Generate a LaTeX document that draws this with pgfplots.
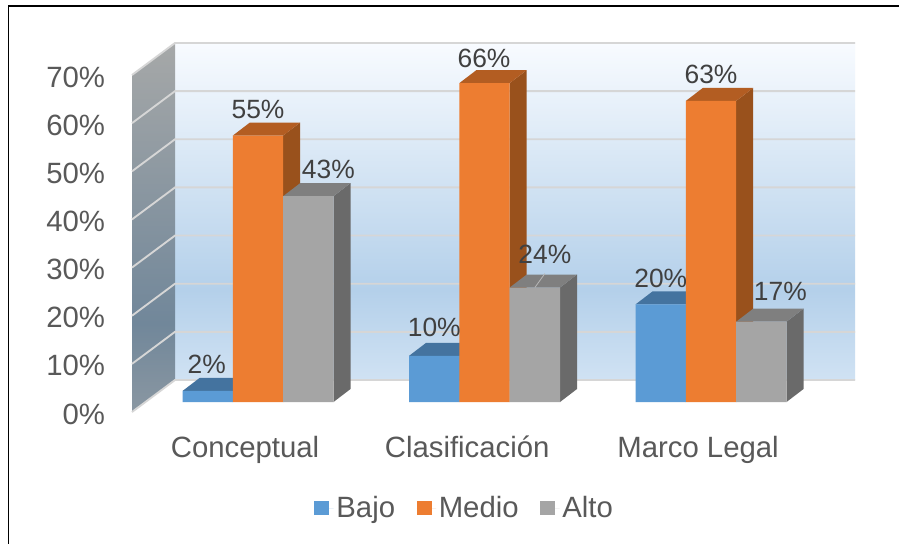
\documentclass[border=0pt]{standalone}
\usepackage{pgfplots}
\usepackage{fontspec}
\setmainfont{Liberation Sans}
\pgfplotsset{compat=1.18}
\definecolor{cBlue}{HTML}{5B9BD5}
\definecolor{cBlueTop}{HTML}{44739F}
\definecolor{cBlueSide}{HTML}{3E6A93}
\definecolor{cOrange}{HTML}{ED7D31}
\definecolor{cOrangeTop}{HTML}{B35D22}
\definecolor{cOrangeSide}{HTML}{99511C}
\definecolor{cGray}{HTML}{A5A5A5}
\definecolor{cGrayTop}{HTML}{7F7F7F}
\definecolor{cGraySide}{HTML}{6A6A6A}
\definecolor{cGrid}{HTML}{D6D6D6}
\definecolor{cTick}{HTML}{595959}
\definecolor{cLab}{HTML}{404040}
\definecolor{bwTop}{HTML}{F8FBFF}
\definecolor{bwMid}{HTML}{B4D0EA}
\definecolor{bwBot}{HTML}{D0E2F3}
\definecolor{lwTop}{HTML}{A6A8A8}
\definecolor{lwMid}{HTML}{71879A}
\definecolor{lwBot}{HTML}{8A97A2}
\pgfdeclareverticalshading{backwall}{100bp}{color(0bp)=(bwBot); color(25bp)=(bwBot); color(38.4bp)=(bwMid); color(75bp)=(bwTop); color(100bp)=(bwTop)}
\pgfdeclareverticalshading{leftwall}{100bp}{color(0bp)=(lwBot); color(25bp)=(lwBot); color(37bp)=(lwMid); color(75bp)=(lwTop); color(100bp)=(lwTop)}
\newcommand{\bigfont}{\fontsize{22}{25}\selectfont}
\newcommand{\labfont}{\fontsize{19.8}{23}\selectfont}
% side and top face of one bar: category, shift (-1,0,1), value, side colour, top colour
\newcommand{\barfaces}[5]{%
  \pgfmathsetmacro{\xl}{#1+#2*0.2221-0.11105}%
  \pgfmathsetmacro{\xr}{#1+#2*0.2221+0.11105}%
  \pgfmathsetmacro{\xlb}{\xl+0.07506}%
  \pgfmathsetmacro{\xrb}{\xr+0.07506}%
  \pgfmathsetmacro{\vb}{#3+2.703}%
  \addplot[fill=#4,draw=none,forget plot] coordinates {(\xr,0)(\xrb,2.703)(\xrb,\vb)(\xr,#3)};
  \addplot[fill=#5,draw=none,forget plot] coordinates {(\xl,#3)(\xlb,\vb)(\xrb,\vb)(\xr,#3)};
}
% data label: category, shift, value, x offset px, y offset px
\newcommand{\barlabel}[5]{%
  \pgfmathsetmacro{\xc}{#1+#2*0.2221}%
  \addplot[draw=none,forget plot,nodes near coords={\pgfmathprintnumber[fixed,precision=0]{\pgfplotspointmeta}\%},
    every node near coord/.append style={anchor=center,inner sep=0pt,text=cLab,font=\labfont,xshift=#4*0.75pt,yshift=#5*0.75pt}]
    coordinates {(\xc,#3)};
}
\pgfplotsset{/pgf/number format/assume math mode=true}
\begin{document}
\begin{tikzpicture}
\path[use as bounding box] (0,0) rectangle (674.25pt,408pt);
\fill[white] (0,0) rectangle (674.25pt,408pt);
\draw[black,line width=1.3pt] (674.25pt,403.3pt) -- (6.4pt,403.3pt) -- (6.4pt,0pt);
% walls and the value axis
\begin{axis}[
  at={(99pt,99pt)},anchor=south west,scale only axis,width=542.25pt,height=252.75pt,
  xmin=132,xmax=855,ymin=0,ymax=70,clip=false,no markers,
  axis line style={draw=none},tick style={draw=none},xtick=\empty,
  ytick={0,10,...,70},
  yticklabel={\pgfmathprintnumber{\tick}\%},
  yticklabel style={anchor=east,inner sep=0pt,xshift=-20pt,yshift=-1.5pt,text=cTick,font=\bigfont},
]
\path[shading=backwall] (axis cs:175,6.65) rectangle (axis cs:855,76.65);
\path[shading=leftwall] (axis cs:132,0) -- (axis cs:175,6.65) -- (axis cs:175,76.65) -- (axis cs:132,70) -- cycle;
\pgfplotsinvokeforeach{0,10,...,70}{
  \pgfmathsetmacro{\vb}{#1+6.65}
  \addplot[cGrid,line width=1.4pt,forget plot] coordinates {(132,#1)(175,\vb)(855,\vb)};
}
\end{axis}
% bars
\begin{axis}[
  at={(108.6pt,106.5pt)},anchor=south west,scale only axis,width=509.625pt,height=252.525pt,
  xmin=-0.5,xmax=2.5,ymin=0,ymax=70,clip=false,no markers,
  axis line style={draw=none},tick style={draw=none},ytick=\empty,
  xtick={0,1,2},xticklabels={\hspace*{1.5pt}Conceptual,Clasificación\hspace*{5pt},\hspace*{1.5pt}Marco Legal},
  xticklabel style={anchor=base,yshift=-41.25pt,xshift=-10.5pt,text=cTick,font=\bigfont},
  legend style={at={(0.4712,-0.3148)},anchor=center,draw=none,fill=none,font=\bigfont,text=cTick,
    legend columns=3,/tikz/every even column/.append style={column sep=14.25pt}},
  legend image code/.code={\fill[#1] (0pt,-5.6pt) rectangle (11.25pt,5.6pt);\path (0pt,0pt) -- (14.5pt,0pt);},
]
% Bajo
\barfaces{0}{-1}{2.3}{cBlueSide}{cBlueTop}
\barfaces{1}{-1}{9.6}{cBlueSide}{cBlueTop}
\barfaces{2}{-1}{20.3}{cBlueSide}{cBlueTop}
\addplot[ybar,bar width=37.725pt,bar shift=-37.725pt,fill=cBlue,draw=none] coordinates {(0,2.3)(1,9.6)(2,20.3)};
\addlegendentry{Bajo}
% Medio
\barfaces{0}{0}{55.4}{cOrangeSide}{cOrangeTop}
\barfaces{1}{0}{66.3}{cOrangeSide}{cOrangeTop}
\barfaces{2}{0}{62.6}{cOrangeSide}{cOrangeTop}
\addplot[ybar,bar width=37.725pt,bar shift=0pt,fill=cOrange,draw=none] coordinates {(0,55.4)(1,66.3)(2,62.6)};
\addlegendentry{Medio}
% Alto
\barfaces{0}{1}{42.8}{cGraySide}{cGrayTop}
\barfaces{1}{1}{23.8}{cGraySide}{cGrayTop}
\barfaces{2}{1}{16.7}{cGraySide}{cGrayTop}
\addplot[ybar,bar width=37.725pt,bar shift=37.725pt,fill=cGray,draw=none] coordinates {(0,42.8)(1,23.8)(2,16.7)};
\addlegendentry{Alto}
% leader line of the 24% label
\addplot[color=cGray!80!white,line width=0.6pt,forget plot] coordinates {(1.2221,23.8)(1.2663,26.7)};
% data labels
\barlabel{0}{-1}{2.3}{-1}{27}
\barlabel{1}{-1}{9.6}{0}{28}
\barlabel{2}{-1}{20.3}{0}{26}
\barlabel{0}{0}{55.4}{0}{26}
\barlabel{1}{0}{66.3}{-0.5}{25}
\barlabel{2}{0}{62.6}{0}{26}
\barlabel{0}{1}{42.8}{20}{27}
\barlabel{1}{1}{23.8}{10}{33}
\barlabel{2}{1}{16.7}{19}{30}
\end{axis}
\end{tikzpicture}
\end{document}
